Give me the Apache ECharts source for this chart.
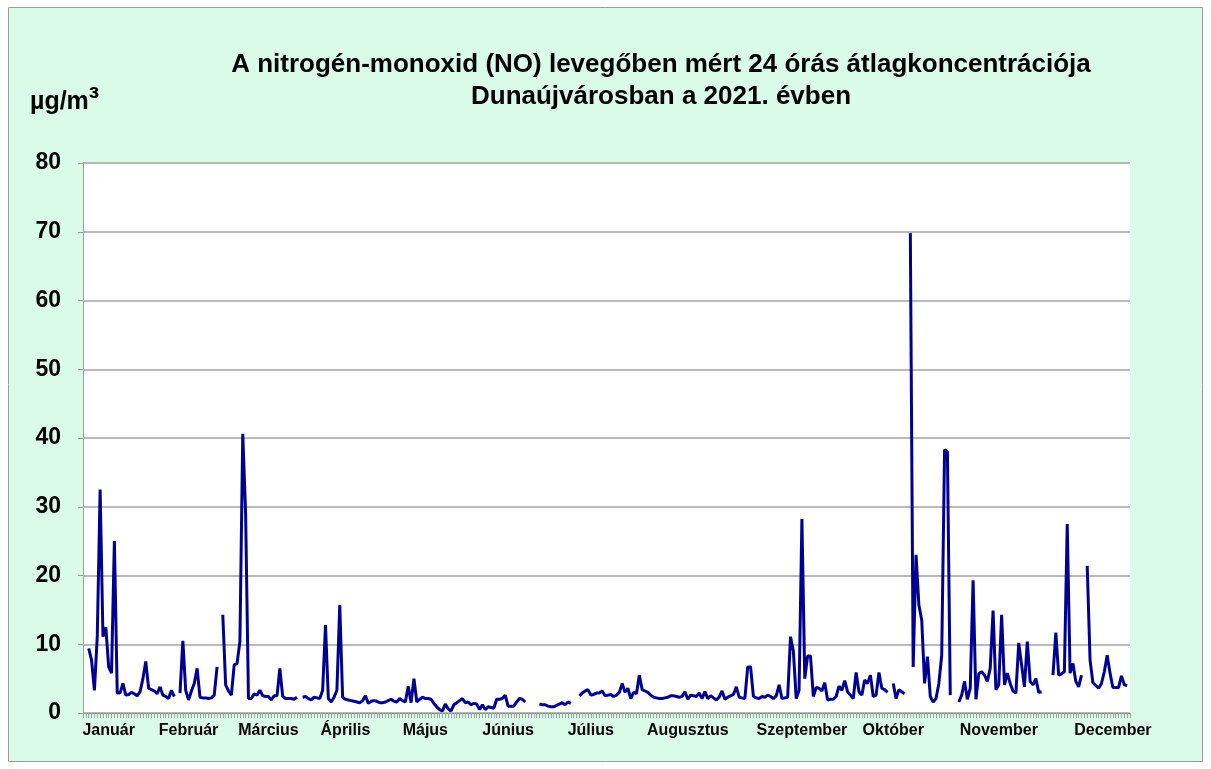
<!DOCTYPE html>
<html><head><meta charset="utf-8">
<script src="https://cdn.jsdelivr.net/npm/echarts@6/dist/echarts.min.js"></script>
<style>html,body{margin:0;padding:0;background:#fff;}#c{width:1211px;height:769px;}</style>
</head><body><div id="c"></div>
<script>
// Daily 24-hour mean NO concentration (µg/m³), Dunaújváros 2021; null = missing day
var jan = [9.4,7.7,3.3,11.1,32.5,11.1,12.5,6.7,5.8,25,2.9,2.9,4.3,2.6,2.7,3.0,2.8,2.5,3.1,5.0,7.5,3.6,3.4,3.2,2.8,3.8,2.6,2.4,2.1,3.3,2.4];
var feb = [null,2.9,10.5,3.3,1.9,3.2,4.3,6.5,2.3,2.2,2.2,2.1,2.2,2.6,6.7,null,14.3,4.1,3.2,2.6,7.0,7.2,10.4,40.6,29,2.1,2.1,2.8];
var mar = [2.6,3.3,2.5,2.4,2.4,1.9,2.5,2.5,6.5,2.4,2.1,2.1,2.1,2.0,2.3,null,2.3,2.4,2.1,1.9,2.3,2.2,2.1,3.3,12.8,2.1,1.6,2.3,3.3,15.7,2.3];
var apr = [2.0,1.9,1.8,1.7,1.6,1.5,1.8,2.5,1.4,1.7,1.8,1.7,1.5,1.5,1.6,1.8,2.0,1.7,1.6,2.1,1.8,1.6,3.9,1.5,5.0,1.6,2.0,2.3,2.1,2.1];
var may = [2.0,1.4,0.9,0.5,0.3,1.3,0.6,0.3,1.2,1.5,1.8,2.1,1.5,1.6,1.2,1.4,1.3,0.5,1.2,0.5,0.9,0.8,0.7,2.0,2.0,2.1,2.6,1.0,1.0,1.0,1.6];
var jun = [2.1,2.0,1.6,null,null,null,null,1.3,1.2,1.2,1.0,0.9,0.9,1.1,1.3,1.5,1.2,1.6,1.4,null,null,2.5,2.9,3.2,3.4,2.6,2.7,2.9,2.9,3.2];
var jul = [2.5,2.6,2.7,2.4,2.6,3.0,4.3,3.0,3.6,2.1,3.0,2.8,5.5,3.4,3.2,3.0,2.6,2.3,2.2,2.1,2.1,2.2,2.3,2.5,2.5,2.4,2.3,2.4,3.1,2.0,2.6];
var aug = [2.5,2.4,2.9,2.1,3.1,2.1,2.5,2.2,1.9,2.3,3.2,2.0,2.3,2.5,2.7,3.8,2.3,2.2,2.1,6.7,6.7,2.4,2.2,2.1,2.4,2.3,2.6,2.4,2.1,2.5,4.1];
var sep = [2.1,2.2,2.3,11.1,9.0,2.1,3.3,28.2,5.0,8.3,8.3,2.4,3.7,3.6,3.2,4.4,1.9,2.0,2.0,2.4,3.9,3.3,4.7,3.1,2.6,2.1,5.9,3.1,2.6,4.8];
var oct = [4.3,5.5,2.4,2.6,5.9,3.6,3.4,3.0,null,4.3,2.1,3.4,3.1,2.8,null,69.8,6.7,23,15.7,13.5,4.3,8.2,2.4,1.6,2.1,4.3,8.4,38.3,38.0,2.6,null];
var nov = [null,1.6,2.6,4.6,2.0,3.6,19.3,2.0,5.7,6.0,5.5,4.6,6.5,14.9,3.4,4.1,14.3,4.1,5.8,4.3,3.2,2.9,10.2,7.0,3.8,10.4,4.6,4.1,5.0,3.0];
var dec = [3.1,null,null,null,5.5,11.7,5.5,5.7,6.0,27.5,5.8,7.2,4.6,3.8,5.5,null,21.4,7.7,4.4,4.0,3.6,4.3,6.0,8.4,5.8,3.7,3.7,3.7,5.4,4.1,4.0];

// x-axis month labels and the day index (0 = Jan 1) under which each is printed
var monthLabels = ['Január','Február','Március','Április','Május','Június','Július','Augusztus','Szeptember','Október','November','December'];
var labelDays   = [7, 35, 63, 90, 118, 147, 176, 210, 250, 282, 319, 359];
var yTicks = [0,10,20,30,40,50,60,70,80];

var titleText = 'A nitrogén-monoxid (NO) levegőben mért 24 órás átlagkoncentrációja\nDunaújvárosban a 2021. évben';
var unitMain = 'µg/m';
var unitSup = '³';

var daily = [].concat(jan,feb,mar,apr,may,jun,jul,aug,sep,oct,nov,dec);
var seriesData = daily.map(function(v,i){ return [i, v]; });
var labelMap = {};
labelDays.forEach(function(d,i){ labelMap[d] = monthLabels[i]; });

var FONT = '"Liberation Sans", Arial, sans-serif';
var chart = echarts.init(document.getElementById('c'), null, {renderer:'canvas'});
chart.setOption({
  animation:false,
  backgroundColor:'#ffffff',
  graphic:[
    {type:'rect', z:-10, silent:true, shape:{x:8.5,y:7.5,width:1194,height:754}, style:{fill:'#d9fbe7', stroke:'#9c9c9c', lineWidth:1}},
    {type:'text', left:30, top:84, style:{
      text:'{m|' + unitMain + '}{s|' + unitSup + '}',
      rich:{
        m:{fontFamily:FONT, fontSize:25, fontWeight:'bold', fill:'#000', verticalAlign:'bottom'},
        s:{fontFamily:FONT, fontSize:31, fontWeight:'bold', fill:'#000', verticalAlign:'bottom'}
      }
    }}
  ],
  title:{
    text:titleText, left:656, top:44, textAlign:'center',
    textStyle:{fontFamily:FONT, fontSize:26, fontWeight:'bold', color:'#000', lineHeight:32}
  },
  grid:{left:83, right:81, top:163, bottom:56, show:true, backgroundColor:'#ffffff', borderWidth:0},
  xAxis:{
    type:'value', min:-2, max:365, interval:1,
    axisLine:{show:true, lineStyle:{color:'#8c8c8c', width:1}},
    axisTick:{show:true, length:5, lineStyle:{color:'#9aa8a0', width:1}},
    splitLine:{show:false},
    axisLabel:{
      show:true, margin:10, color:'#000', fontFamily:FONT, fontSize:16, fontWeight:'bold',
      formatter:function(v){ return labelMap[v] || ''; }
    }
  },
  yAxis:{
    type:'value', min:0, max:80, interval:10,
    axisLine:{show:true, onZero:false, lineStyle:{color:'#a0a0a0'}},
    axisTick:{show:true, length:5, lineStyle:{color:'#a0a0a0'}},
    splitLine:{show:true, lineStyle:{color:'#a3a3a3', width:1.5}},
    axisLabel:{margin:22, color:'#000', fontFamily:FONT, fontSize:23, fontWeight:'bold',
      formatter:function(v){ return yTicks.indexOf(v) >= 0 ? String(v) : ''; }}
  },
  series:[{
    type:'line', data:seriesData, showSymbol:false, connectNulls:false,
    lineStyle:{color:'#000092', width:3}, itemStyle:{color:'#000092'}
  }]
});
</script></body></html>
